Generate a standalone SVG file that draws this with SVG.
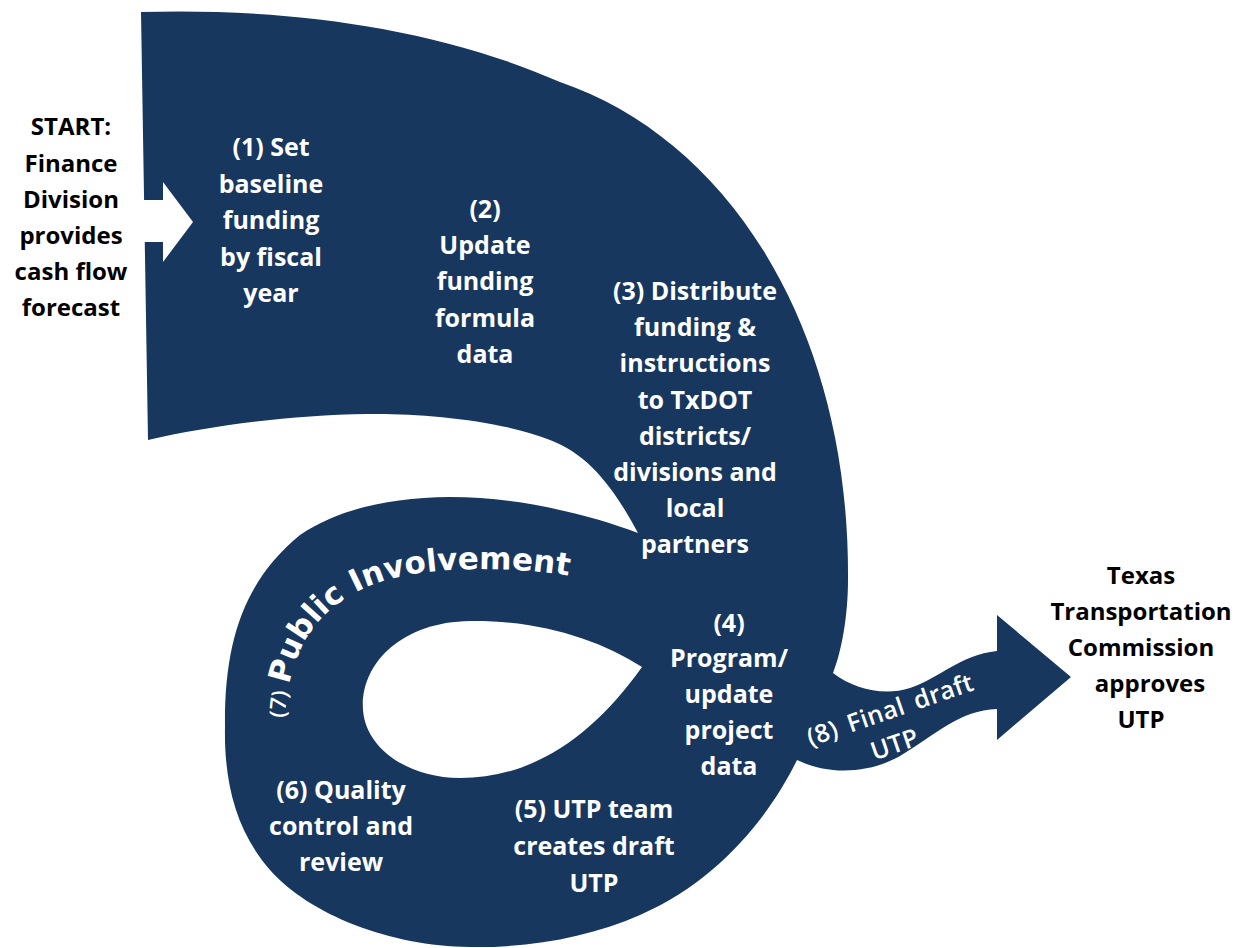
<svg xmlns="http://www.w3.org/2000/svg" xmlns:xlink="http://www.w3.org/1999/xlink" width="1237" height="948" viewBox="0 0 1237 948">
  <style>
    .band { fill: #17375E; }
    .notch { fill: #FFFFFF; }
    .w { fill: #FFFFFF; font-family: "Open Sans", "Liberation Sans", sans-serif; font-weight: bold; font-size: 25px; text-anchor: middle; }
    .k { fill: #000000; font-family: "Open Sans", "Liberation Sans", sans-serif; font-weight: bold; font-size: 24px; text-anchor: middle; }
    .r8 { fill: #FFFFFF; font-family: "Open Sans", "Liberation Sans", sans-serif; font-weight: 600; font-size: 25px; text-anchor: middle; letter-spacing: 0.4px; word-spacing: 4px; }
    .s7 { fill: #FFFFFF; font-family: "Open Sans", "Liberation Sans", sans-serif; font-weight: 600; font-size: 22px; }
    .pib { fill: #FFFFFF; font-family: "DejaVu Sans", "Liberation Sans", sans-serif; font-weight: bold; font-size: 31px; }
  </style>
  <defs>
    <path id="pi-path" d="M 285,718 C 290,610 360,575 450,570 C 510,567 560,572 602,583"/>
  </defs>
  <rect x="0" y="0" width="1237" height="948" fill="#FFFFFF"/>

  <g id="connectors">
    <path id="flow-band" class="band" fill-rule="evenodd" d="
      M 141,12
      C 280,8 430,25 560,82
      C 730,140 850,330 848,580
      C 848,615 842,650 833,673
      C 855,690 885,696 910,688
      C 940,678 960,655 997,651
      L 997,615 L 1071,677 L 997,740 L 997,709
      C 960,710 935,735 900,756
      C 870,773 830,776 797,760
      C 770,815 720,880 640,915
      C 590,937 530,948 470,947
      C 390,946 310,915 270,870
      C 235,830 224,780 225,727
      C 224,640 245,580 300,535
      C 340,508 390,498 450,497
      C 520,497 590,515 638,533
      C 615,490 590,455 550,440
      C 500,420 420,413 367,414
      C 290,415 210,426 148,440
      Z
      M 642,667
      C 600,640 540,620 470,621
      C 400,622 360,665 363,710
      C 366,750 410,778 460,778
      C 530,778 590,740 642,667
      Z"/>
    <polygon id="start-arrow" class="notch" points="128,200 163,200 163,182 193,222 163,262 163,242 128,242"/>
  </g>

  <g id="node-start">
    <text class="k" x="71" y="135">START:</text>
    <text class="k" x="71" y="172">Finance</text>
    <text class="k" x="71" y="208">Division</text>
    <text class="k" x="71" y="244">provides</text>
    <text class="k" x="71" y="280">cash flow</text>
    <text class="k" x="71" y="316">forecast</text>
  </g>

  <g id="node-1">
    <text class="w" x="271" y="156">(1) Set</text>
    <text class="w" x="271" y="193">baseline</text>
    <text class="w" x="271" y="229">funding</text>
    <text class="w" x="271" y="266">by fiscal</text>
    <text class="w" x="271" y="302">year</text>
  </g>

  <g id="node-2">
    <text class="w" x="485" y="218">(2)</text>
    <text class="w" x="485" y="254">Update</text>
    <text class="w" x="485" y="290">funding</text>
    <text class="w" x="485" y="327">formula</text>
    <text class="w" x="485" y="363">data</text>
  </g>

  <g id="node-3">
    <text class="w" x="695" y="300">(3) Distribute</text>
    <text class="w" x="695" y="336">funding &amp;</text>
    <text class="w" x="695" y="372">instructions</text>
    <text class="w" x="695" y="409">to TxDOT</text>
    <text class="w" x="695" y="445">districts/</text>
    <text class="w" x="695" y="481">divisions and</text>
    <text class="w" x="695" y="517">local</text>
    <text class="w" x="695" y="553">partners</text>
  </g>

  <g id="node-4">
    <text class="w" x="729" y="632">(4)</text>
    <text class="w" x="729" y="667">Program/</text>
    <text class="w" x="729" y="703">update</text>
    <text class="w" x="729" y="739">project</text>
    <text class="w" x="729" y="775">data</text>
  </g>

  <g id="node-5">
    <text class="w" x="594" y="818">(5) UTP team</text>
    <text class="w" x="594" y="855">creates draft</text>
    <text class="w" x="594" y="892">UTP</text>
  </g>

  <g id="node-6">
    <text class="w" x="341" y="799">(6) Quality</text>
    <text class="w" x="341" y="835">control and</text>
    <text class="w" x="341" y="871">review</text>
  </g>

  <g id="node-7">
    <text><textPath xlink:href="#pi-path" href="#pi-path" startOffset="0"><tspan class="s7">(7)</tspan><tspan class="pib" dx="7">Public Involvement</tspan></textPath></text>
  </g>

  <g id="node-8" transform="rotate(-19 893 718)">
    <text class="r8" x="893" y="718">(8) Final draft</text>
    <text class="r8" x="886" y="752">UTP</text>
  </g>

  <g id="node-end">
    <text class="k" x="1141" y="584">Texas</text>
    <text class="k" x="1141" y="620">Transportation</text>
    <text class="k" x="1141" y="656">Commission</text>
    <text class="k" x="1150" y="692">approves</text>
    <text class="k" x="1141" y="728">UTP</text>
  </g>
</svg>
